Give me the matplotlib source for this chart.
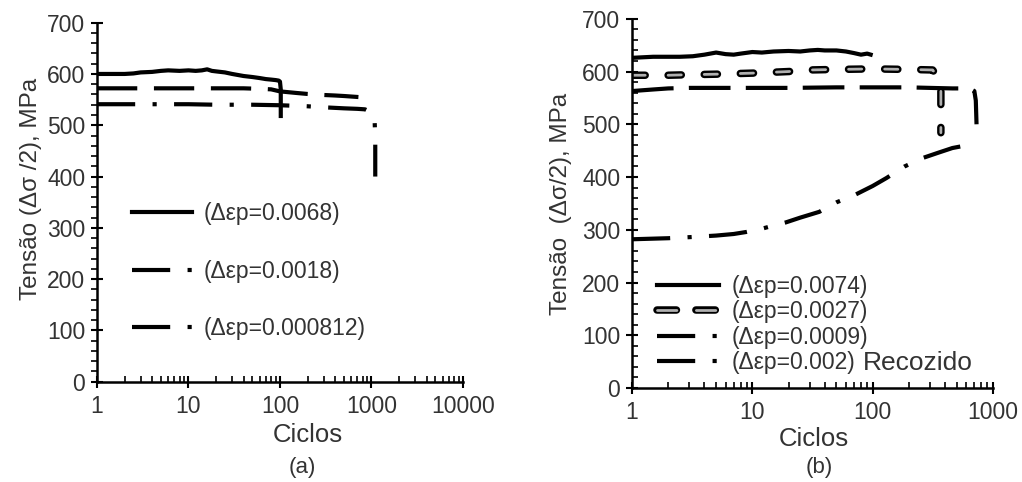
import matplotlib
matplotlib.use("Agg")
import matplotlib.pyplot as plt
import matplotlib.patheffects as pe
from matplotlib.lines import Line2D
from matplotlib.ticker import MultipleLocator, LogLocator

plt.rcParams['font.family'] = ['Liberation Sans', 'DejaVu Sans']
plt.rcParams['lines.scale_dashes'] = False

# ---------------- data: panel (a) ----------------
a_n_0068 = [1, 1.5, 2, 2.5, 3, 4, 5, 6, 8, 10, 12, 14, 16, 18, 20, 25, 30, 40, 50, 60, 70, 80, 90, 97, 100, 102, 102]
a_s_0068 = [600, 600, 600, 601, 603, 604, 606, 607, 606, 607, 606, 607, 609, 606, 605, 603, 600, 596, 594, 592, 590, 589, 588, 587, 585, 570, 514]
a_n_0018 = [1, 2, 5, 10, 20, 40, 60, 80, 100, 150, 200, 300, 400, 500, 600, 720]
a_s_0018 = [572, 572, 572, 572, 572, 572, 571, 570, 566, 563, 561, 559, 558, 557, 556, 555]
a_n_000812 = [1, 2, 5, 10, 20, 50, 100, 200, 300, 500, 700, 850, 1000, 1080, 1100, 1100]
a_s_000812 = [541, 541, 541, 541, 540, 540, 539, 537, 535, 533, 532, 531, 525, 514, 475, 400]
a_labels = ['(\u0394\u03b5p=0.0068)', '(\u0394\u03b5p=0.0018)', '(\u0394\u03b5p=0.000812)']

# ---------------- data: panel (b) ----------------
b_n_0074 = [1, 1.5, 2, 2.5, 3.2, 4, 5, 6, 7, 8, 10, 12, 15, 20, 25, 30, 35, 40, 50, 60, 70, 80, 90, 100]
b_s_0074 = [626, 628, 628, 628, 629, 632, 636, 633, 632, 634, 637, 636, 638, 639, 638, 640, 641, 640, 640, 638, 635, 632, 634, 631]
b_n_0027 = [1, 2, 3, 5, 10, 20, 30, 50, 100, 200, 315, 369, 369]
b_s_0027 = [593, 593, 594, 595, 597, 600, 603, 604, 605, 604, 603, 583, 484]
b_n_0009 = [1, 1.5, 2, 3, 5, 10, 20, 50, 100, 200, 300, 460, 640, 700, 720, 730]
b_s_0009 = [563, 566, 568, 569, 569, 569, 569, 570, 570, 570, 569, 568, 568, 563, 545, 500]
b_n_002 = [1, 2, 3, 5, 7, 9, 12, 15, 19, 25, 36, 50, 71, 100, 130, 184, 260, 350, 460, 600, 730]
b_s_002 = [282, 284, 286, 289, 292, 296, 302, 308, 314, 323, 334, 352, 366, 383, 398, 420, 436, 446, 455, 460, 463]
b_labels = ['(\u0394\u03b5p=0.0074)', '(\u0394\u03b5p=0.0027)', '(\u0394\u03b5p=0.0009)', '(\u0394\u03b5p=0.002)']

TXT = '#333333'
LW = 3.0
DASHDOT = (0, (27.5, 12.5, 3, 12.5))
LONGDASH_A = (0, (29, 12))
LONGDASH_B = (0, (30, 11))
GRAY_PE = [pe.Stroke(linewidth=5.4, foreground='black'), pe.Normal()]

fig = plt.figure(figsize=(10.22, 4.82), dpi=100)
axA = fig.add_axes([0.0949, 0.208, 0.3581, 0.745])
axB = fig.add_axes([0.6184, 0.195, 0.3532, 0.766])


def style_axis(ax, xmax, minor_side):
    ax.set_xscale('log')
    ax.set_xlim(1, xmax)
    ax.set_ylim(0, 700)
    for s in ['top', 'right']:
        ax.spines[s].set_visible(False)
    for s in ['left', 'bottom']:
        ax.spines[s].set_linewidth(1.8)
    ax.yaxis.set_major_locator(MultipleLocator(100))
    ax.yaxis.set_minor_locator(MultipleLocator(20))
    ax.xaxis.set_major_locator(LogLocator(base=10, numticks=10))
    ax.xaxis.set_minor_locator(LogLocator(base=10, subs=range(2, 10), numticks=10))
    ax.xaxis.set_major_formatter(matplotlib.ticker.FuncFormatter(lambda v, p: '%d' % round(v)))
    ax.tick_params(axis='both', which='major', direction='inout', length=9, width=1.5,
                   labelsize=16.5, labelcolor=TXT, color='black')
    ax.tick_params(axis='x', which='major', pad=5)
    ax.tick_params(axis='y', which='major', pad=4)
    ax.tick_params(axis='x', which='minor', direction='in', length=4.5, width=1.2)
    ax.tick_params(axis='y', which='minor', direction=minor_side, length=4, width=1.2)


style_axis(axA, 10000, 'out')
style_axis(axB, 1000, 'in')

# ---- panel (a) lines
axA.plot(a_n_0068, a_s_0068, color='black', lw=LW, solid_capstyle='butt', solid_joinstyle='round')
axA.plot(a_n_0018, a_s_0018, color='black', lw=LW, linestyle=LONGDASH_A, dash_capstyle='butt')
axA.plot(a_n_000812, a_s_000812, color='black', lw=LW, linestyle=DASHDOT, dash_capstyle='butt')

hA = [Line2D([], [], color='black', lw=LW),
      Line2D([], [], color='black', lw=LW, linestyle=DASHDOT, dash_capstyle='butt'),
      Line2D([], [], color='black', lw=LW, linestyle=DASHDOT, dash_capstyle='butt')]
legA = axA.legend(hA, a_labels, loc='upper left', bbox_to_anchor=(0.097, 0.5),
                  frameon=False, fontsize=16.5, handlelength=2.6, handletextpad=0.5,
                  labelspacing=1.5, borderaxespad=0, borderpad=0)
for t in legA.get_texts():
    t.set_color(TXT)

axA.set_xlabel('Ciclos', fontsize=18.5, color=TXT)
axA.xaxis.set_label_coords(0.577, -0.115)
axA.set_ylabel('Tens\u00e3o (\u0394\u03c3 /2), MPa', fontsize=17.5, color=TXT)
axA.yaxis.set_label_coords(-0.149, 0.537)
axA.text(0.56, -0.24, '(a)', transform=axA.transAxes, fontsize=16, color=TXT,
         ha='center', va='center')

# ---- panel (b) lines
axB.plot(b_n_0074, b_s_0074, color='black', lw=LW, solid_capstyle='butt', solid_joinstyle='round')
axB.plot(b_n_0009, b_s_0009, color='black', lw=LW, linestyle=LONGDASH_B, dash_capstyle='butt')
axB.plot(b_n_002, b_s_002, color='black', lw=LW, linestyle=DASHDOT, dash_capstyle='butt')
axB.plot(b_n_0027, b_s_0027, color='#b0b0b0', lw=2.0, linestyle=(0, (9.5, 16.5)),
         dash_capstyle='round', path_effects=GRAY_PE)

hB = [Line2D([], [], color='black', lw=LW),
      Line2D([], [], color='#b0b0b0', lw=2.0, linestyle=(0, (14, 14)), dash_capstyle='round',
             path_effects=GRAY_PE),
      Line2D([], [], color='black', lw=LW, linestyle=DASHDOT, dash_capstyle='butt'),
      Line2D([], [], color='black', lw=LW, linestyle=DASHDOT, dash_capstyle='butt')]
legB = axB.legend(hB, b_labels, loc='upper left', bbox_to_anchor=(0.07, 0.306),
                  frameon=False, fontsize=16.5, handlelength=2.7, handletextpad=0.55,
                  labelspacing=0.1, borderaxespad=0, borderpad=0)
for t in legB.get_texts():
    t.set_color(TXT)
axB.text(0.64, 0.068, 'Recozido', transform=axB.transAxes, fontsize=19, color=TXT,
         ha='left', va='center')

axB.set_xlabel('Ciclos', fontsize=18.5, color=TXT)
axB.xaxis.set_label_coords(0.505, -0.105)
axB.set_ylabel('Tens\u00e3o  (\u0394\u03c3/2), MPa', fontsize=17.5, color=TXT)
axB.yaxis.set_label_coords(-0.166, 0.499)
axB.text(0.52, -0.215, '(b)', transform=axB.transAxes, fontsize=16, color=TXT,
         ha='center', va='center')

fig.savefig('out.png', dpi=100, facecolor='white')
